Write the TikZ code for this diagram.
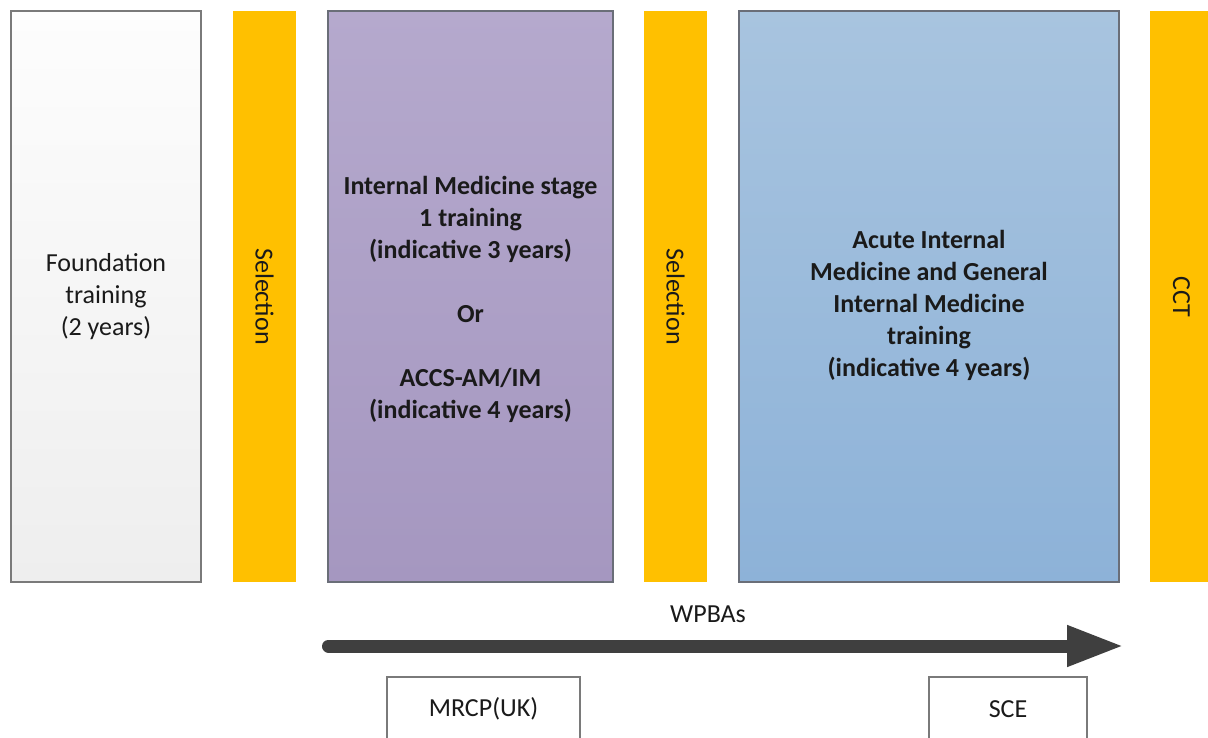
\documentclass[tikz,border=0pt]{standalone}
\usepackage{fontspec}
\setmainfont{Carlito}
\usetikzlibrary{arrows.meta}
\definecolor{gold}{HTML}{FFC000}
\definecolor{purpT}{HTML}{B5A9CD}
\definecolor{purpB}{HTML}{A597C0}
\definecolor{blueT}{HTML}{A8C4DF}
\definecolor{blueB}{HTML}{8DB2D8}
\definecolor{greyT}{HTML}{FDFDFD}
\definecolor{greyB}{HTML}{EEEEEE}
\definecolor{edge}{HTML}{7A7A7A}
\definecolor{darkedge}{HTML}{6A6E78}
\definecolor{arrowc}{HTML}{3F3F3F}
\definecolor{txt}{HTML}{1A1A1A}
\begin{document}
\begin{tikzpicture}[x=1pt,y=-1pt,
  every node/.style={text=txt, font=\fontsize{26}{32}\selectfont},
  tallbox/.style={rectangle, minimum height=571pt, inner sep=0pt, align=center, line width=1.2pt},
  goldbar/.style={rectangle, fill=gold, rotate=-90, minimum width=571pt, minimum height=63pt, inner sep=0pt},
  exambox/.style={rectangle, draw=edge, fill=white, line width=1.3pt, minimum height=64pt, inner sep=0pt}
]
\useasboundingbox (0,0) rectangle (1208,738);
\clip (0,0) rectangle (1208,738);
\fill[white] (0,0) rectangle (1208,738);

\node[tallbox, draw=edge, top color=greyT, bottom color=greyB, minimum width=190pt] (found) at (106,296.5)
  {Foundation\\training\\(2 years)};
\node[goldbar] (sel1) at (264.5,296.5) {Selection};
\node[tallbox, draw=darkedge, top color=purpT, bottom color=purpB, minimum width=285pt] (im) at (470.5,296.5) {};
\node[align=center, font=\fontsize{26}{32}\selectfont\bfseries] (imtext) at (470.5,299.5)
  {Internal Medicine stage\\1 training\\(indicative 3 years)\\[32pt]Or\\[32pt]ACCS-AM/IM\\(indicative 4 years)};
\node[goldbar] (sel2) at (675.5,296.5) {Selection};
\node[tallbox, draw=darkedge, top color=blueT, bottom color=blueB, minimum width=380pt] (aim) at (929,296.5) {};
\node[align=center, font=\fontsize{26}{32}\selectfont\bfseries] (aimtext) at (929,305)
  {Acute Internal\\Medicine and General\\Internal Medicine\\training\\(indicative 4 years)};
\node[goldbar] (cct) at (1181.5,296.5) {CCT};

\node (wpba) at (708,614) {WPBAs};
\coordinate (ws) at (328.5,646);
\coordinate (we) at (1124,646);
\draw[arrowc, line width=13pt, line cap=round, -{Triangle[length=57pt,width=38pt]}] (ws) -- (we);

\node[exambox, minimum width=193pt] (mrcp) at (483.5,709) {MRCP(UK)};
\node[exambox, minimum width=158pt] (sce) at (1008,709) {SCE};
\end{tikzpicture}
\end{document}
